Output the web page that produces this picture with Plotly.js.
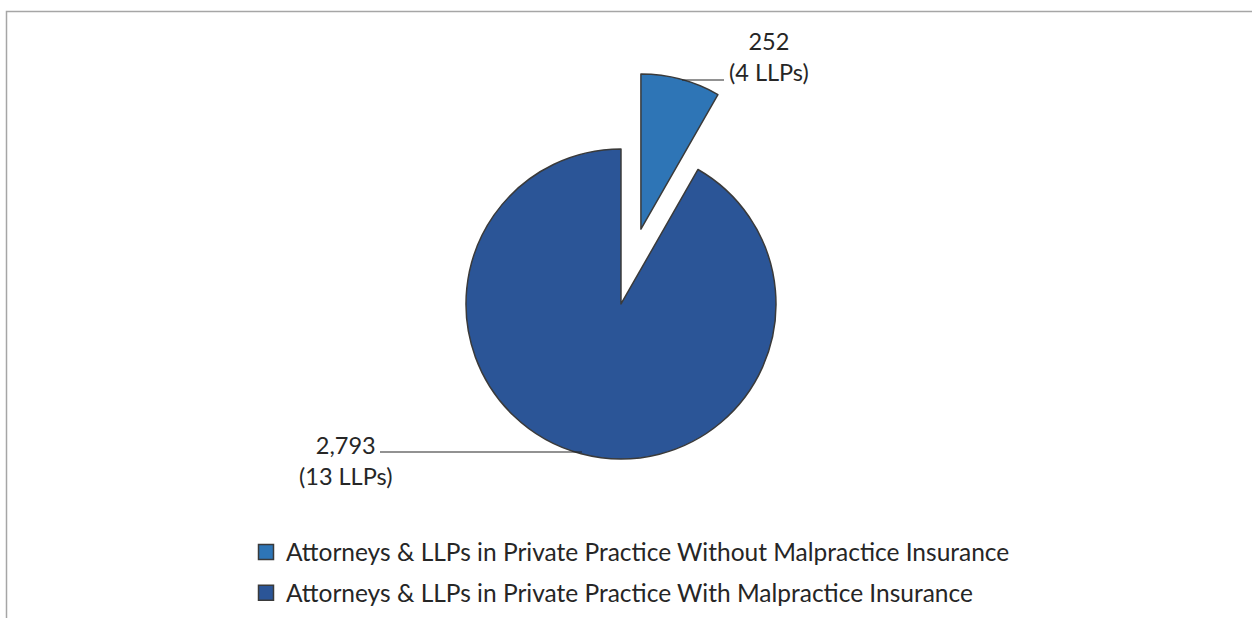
<!DOCTYPE html>
<html>
<head>
<meta charset="utf-8">
<script src="https://cdn.plot.ly/plotly-3.0.1.min.js"></script>
<style>html,body{margin:0;padding:0;background:#fff;}#chart{width:1252px;height:618px;}</style>
</head>
<body>
<div id="chart"></div>
<script>
// ---- data ----
const labels = [
  "Attorneys & LLPs in Private Practice Without Malpractice Insurance",
  "Attorneys & LLPs in Private Practice With Malpractice Insurance"
];
const values = [252, 2793];
const llpCounts = [4, 13];
const colors = ["#2E75B6", "#2B5597"];
const pulls = [0.5, 0];

const W = 1252, H = 618;
const FONT = "Lato, 'Open Sans', sans-serif";
const TXT = "#262626";
const px = v => v / W;
const py = v => 1 - v / H;

const labelText = values.map((v, i) => v.toLocaleString("en-US") + "<br>(" + llpCounts[i] + " LLPs)");

const traces = [{
  type: "pie",
  values: values,
  labels: labels,
  sort: false,
  direction: "clockwise",
  rotation: 0,
  pull: pulls,
  marker: { colors: colors, line: { color: "#3a3a3a", width: 1.5 } },
  textinfo: "none",
  hoverinfo: "none",
  showlegend: false,
  domain: { x: [0.25, 0.742], y: [0.1319, 0.8843] }
}];
labels.forEach((lab, i) => {
  traces.push({
    type: "scatter", x: [null], y: [null], mode: "markers", name: lab,
    legendgroup: "g" + i, hoverinfo: "skip",
    marker: { symbol: "square", size: 15, color: colors[i], line: { color: "#3a3a3a", width: 1.5 } }
  });
});

const layout = {
  width: W, height: H,
  margin: { l: 0, r: 0, t: 0, b: 0 },
  paper_bgcolor: "#ffffff", plot_bgcolor: "#ffffff",
  font: { family: FONT, color: TXT, size: 22 },
  xaxis: { visible: false }, yaxis: { visible: false },
  showlegend: true,
  legend: {
    x: px(246), xanchor: "left", y: py(529.5), yanchor: "top",
    font: { family: FONT, size: 24.5, color: TXT },
    tracegroupgap: 6, bgcolor: "rgba(0,0,0,0)", borderwidth: 0
  },
  annotations: [
    { text: labelText[0], x: px(769), y: py(56), xref: "paper", yref: "paper",
      xanchor: "center", yanchor: "middle", showarrow: false, align: "center",
      font: { family: FONT, size: 23.5, color: TXT } },
    { text: labelText[1], x: px(345), y: py(460), xref: "paper", yref: "paper",
      xanchor: "center", yanchor: "middle", showarrow: false, align: "center",
      font: { family: FONT, size: 23.5, color: TXT } }
  ],
  shapes: [
    { type: "path", xref: "paper", yref: "paper",
      path: "M " + px(6.5) + " " + py(618) + " L " + px(6.5) + " " + py(11.5) + " L " + px(1252) + " " + py(11.5),
      line: { color: "#a6a6a6", width: 1.5 } },
    { type: "line", xref: "paper", yref: "paper", x0: px(682), x1: px(724), y0: py(80), y1: py(80),
      line: { color: "#262626", width: 1.2 } },
    { type: "line", xref: "paper", yref: "paper", x0: px(380), x1: px(582), y0: py(452), y1: py(452),
      line: { color: "#262626", width: 1.2 } }
  ]
};

Plotly.newPlot("chart", traces, layout, { displayModeBar: false, staticPlot: true });
</script>
</body>
</html>
